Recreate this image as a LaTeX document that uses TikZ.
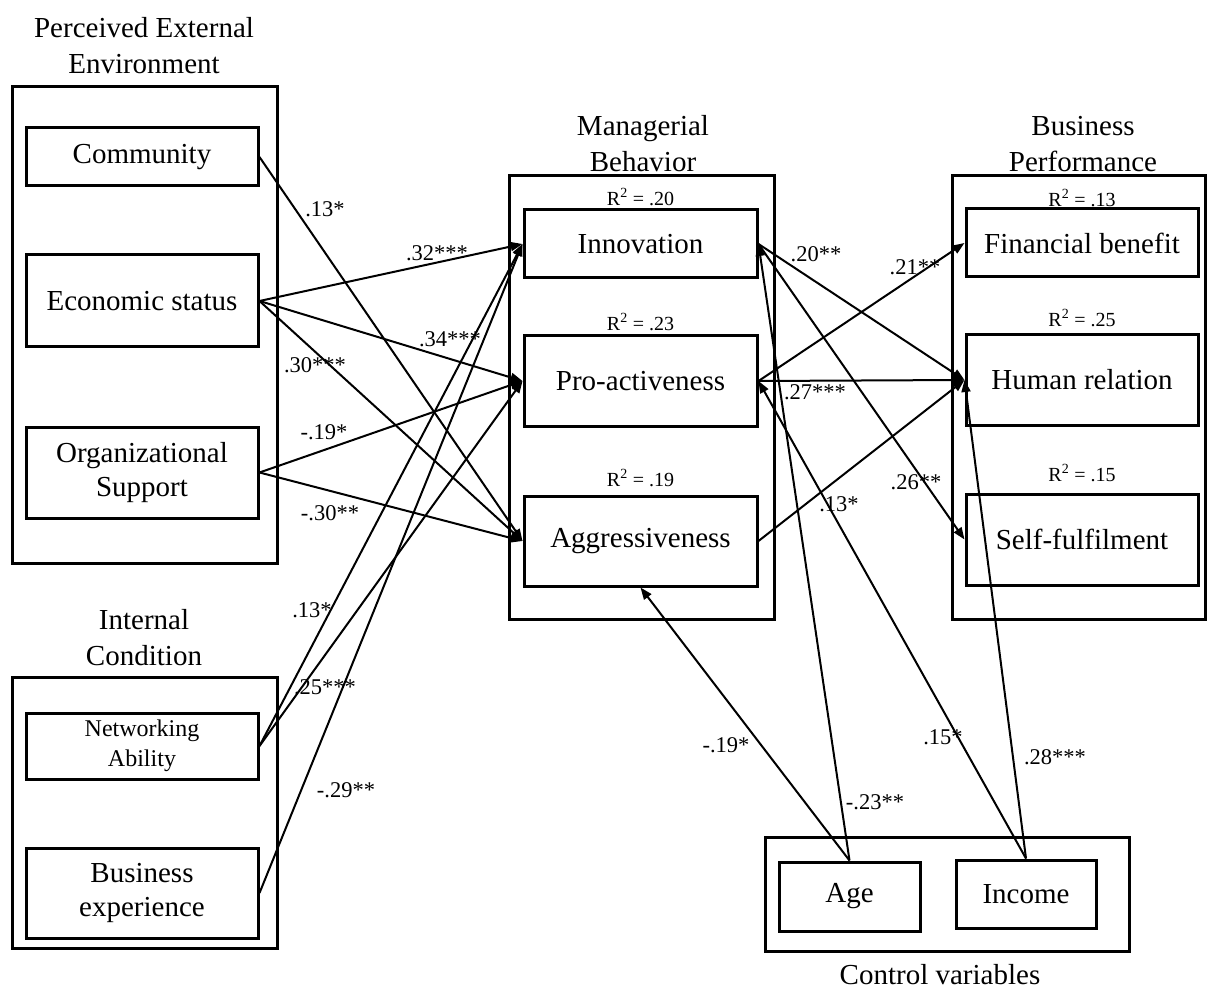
\documentclass[tikz,border=0pt]{standalone}
\usepackage{fontspec}
\setmainfont{Liberation Serif}
\usetikzlibrary{arrows.meta}
\begin{document}
\begin{tikzpicture}[x=1pt,y=-1pt,
  outerbox/.style={draw, line width=3pt, inner sep=0pt},
  varbox/.style={draw, line width=3pt, inner sep=0pt, align=center, font=\fontsize{29}{34}\selectfont},
  title/.style={align=center, inner sep=0pt, font=\fontsize{29}{36}\selectfont},
  rsq/.style={inner sep=0pt, font=\fontsize{20}{24}\selectfont},
  coef/.style={inner sep=0pt, font=\fontsize{22.5}{27}\selectfont},
  path/.style={line width=2pt, -{Triangle[length=12pt,width=9pt]}}
]
\useasboundingbox (0,0) rectangle (1208,992);

% outer group boxes
\node[outerbox, minimum width=265, minimum height=476] (pee) at (144.5,325) {};
\node[outerbox, minimum width=265, minimum height=271] (ic) at (144.5,812.5) {};
\node[outerbox, minimum width=265, minimum height=443] (mb) at (641.5,397.5) {};
\node[outerbox, minimum width=253, minimum height=443] (bp) at (1078.5,397.5) {};
\node[outerbox, minimum width=364, minimum height=114] (cv) at (947,894) {};

% group titles
\node[title] (tpee) at (144,46) {Perceived External\\Environment};
\node[title] (tic) at (144,638) {Internal\\Condition};
\node[title] (tmb) at (643,144) {Managerial\\Behavior};
\node[title] (tbp) at (1083,144) {Business\\Performance};
\node[title] (tcv) at (940,975) {Control variables};

% left variables
\node[varbox, minimum width=232, minimum height=58] (com) at (142,157) {Community};
\node[varbox, minimum width=232, minimum height=92] (eco) at (142,301) {Economic status};
\node[varbox, minimum width=232, minimum height=91] (org) at (142,472.5) {Organizational\\Support};
\node[varbox, minimum width=232, minimum height=66, font=\fontsize{24}{30}\selectfont] (net) at (142,746) {Networking\\Ability};
\node[varbox, minimum width=232, minimum height=90] (bus) at (142,893) {Business\\experience};

% middle variables
\node[varbox, minimum width=233, minimum height=68] (inn) at (640.5,244) {Innovation};
\node[varbox, minimum width=233, minimum height=90] (pro) at (640.5,381) {Pro-activeness};
\node[varbox, minimum width=233, minimum height=90] (agg) at (640.5,541) {Aggressiveness};

% right variables
\node[varbox, minimum width=232, minimum height=68] (fin) at (1082,243) {Financial benefit};
\node[varbox, minimum width=232, minimum height=91] (hr) at (1082,380) {Human relation};
\node[varbox, minimum width=232, minimum height=91] (self) at (1082,539.5) {Self-fulfilment};

% control variables
\node[varbox, minimum width=141, minimum height=69] (age) at (849.5,896.5) {Age};
\node[varbox, minimum width=140, minimum height=68] (inc) at (1026,894) {Income};

% R squared
\node[rsq] (r1) at (640.5,197) {R\textsuperscript{2} = .20};
\node[rsq] (r2) at (640.5,322) {R\textsuperscript{2} = .23};
\node[rsq] (r3) at (640.5,478) {R\textsuperscript{2} = .19};
\node[rsq] (r4) at (1082,198) {R\textsuperscript{2} = .13};
\node[rsq] (r5) at (1082,318) {R\textsuperscript{2} = .25};
\node[rsq] (r6) at (1082,473) {R\textsuperscript{2} = .15};

% paths
\draw[path] (com.east) -- (agg.west);
\draw[path] (eco.east) -- (inn.west);
\draw[path] (eco.east) -- (pro.west);
\draw[path] (eco.east) -- (agg.west);
\draw[path] (org.east) -- (pro.west);
\draw[path] (org.east) -- (agg.west);
\draw[path] (net.east) -- (inn.west);
\draw[path] (net.east) -- (pro.west);
\draw[path] (bus.east) -- (inn.west);
\draw[path] (inn.east) -- (hr.west);
\draw[path] (inn.east) -- (self.west);
\draw[path] (pro.east) -- (fin.west);
\draw[path] (pro.east) -- (hr.west);
\draw[path] (agg.east) -- (hr.west);
\draw[path] (age.north) -- (agg.south);
\draw[path] (age.north) -- (inn.east);
\draw[path] (inc.north) -- (pro.east);
\draw[path] (inc.north) -- (hr.west);

% coefficients
\node[coef] (c1) at (325,209) {.13*};
\node[coef] (c2) at (437,253) {.32***};
\node[coef] (c3) at (450,339) {.34***};
\node[coef] (c4) at (315,365) {.30***};
\node[coef] (c5) at (324,432) {-.19*};
\node[coef] (c6) at (330,513) {-.30**};
\node[coef] (c7) at (312,610) {.13*};
\node[coef] (c8) at (325,687) {.25***};
\node[coef] (c9) at (346,790) {-.29**};
\node[coef] (c10) at (816,254) {.20**};
\node[coef] (c11) at (915,267) {.21**};
\node[coef] (c12) at (815,392) {.27***};
\node[coef] (c13) at (916,482) {.26**};
\node[coef] (c14) at (839,504) {.13*};
\node[coef] (c15) at (726,745) {-.19*};
\node[coef] (c16) at (875,802) {-.23**};
\node[coef] (c17) at (943,737) {.15*};
\node[coef] (c18) at (1055,757) {.28***};
\end{tikzpicture}
\end{document}
